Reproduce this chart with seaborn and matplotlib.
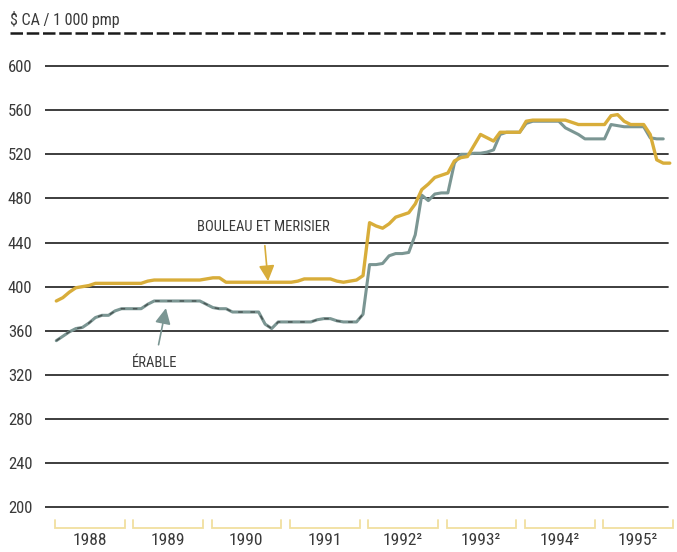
import numpy as np
import pandas as pd
import seaborn as sns
import matplotlib.pyplot as plt
from matplotlib import font_manager as fm
from matplotlib.transforms import blended_transform_factory

# Monthly lumber prices, January 1988 onward ($ CA / 1 000 pmp)
birch = [
    387, 390, 395, 399, 400, 401, 403, 403, 403, 403, 403, 403,
    403, 403, 405, 406, 406, 406, 406, 406, 406, 406, 406, 407,
    408, 408, 404, 404, 404, 404, 404, 404, 404, 404, 404, 404,
    404, 405, 407, 407, 407, 407, 407, 405, 404, 405, 406, 410,
    458, 455, 453, 457, 463, 465, 467, 475, 488, 493, 499, 501,
    503, 514, 517, 518, 528, 538, 535, 532, 540, 540, 540, 540,
    550, 551, 551, 551, 551, 551, 551, 549, 547, 547, 547, 547,
    547, 555, 556, 550, 547, 547, 547, 538, 515, 512, 512,
]
maple = [
    351, 355, 359, 362, 363, 367, 372, 374, 374, 378, 380, 380,
    380, 380, 384, 387, 387, 387, 387, 387, 387, 387, 387, 384,
    381, 380, 380, 377, 377, 377, 377, 377, 366, 362, 368, 368,
    368, 368, 368, 368, 370, 371, 371, 369, 368, 368, 368, 375,
    420, 420, 421, 428, 430, 430, 431, 447, 483, 478, 484, 485,
    485, 512, 520, 520, 521, 521, 522, 524, 538, 540, 540, 540,
    548, 550, 550, 550, 550, 550, 544, 541, 538, 534, 534, 534,
    534, 547, 546, 545, 545, 545, 545, 535, 534, 534,
]
years = ["1988", "1989", "1990", "1991", "1992²", "1993²", "1994²", "1995²"]
yticks = [200, 240, 280, 320, 360, 400, 440, 480, 520, 560, 600]

sns.set_theme(style="white")
installed = {f.name for f in fm.fontManager.ttflist}
narrow_choices = ["Liberation Sans Narrow", "Roboto Condensed", "Open Sans Condensed",
                  "DejaVu Sans Condensed", "Noto Sans Condensed"]
narrow = next((n for n in narrow_choices if n in installed), None)
plt.rcParams["font.family"] = [narrow, "DejaVu Sans"] if narrow else ["DejaVu Sans"]
shrink = 1.0 if narrow else 0.85

GOLD = "#d8ad3a"
TEAL = "#7b9693"
GRID = "#2e2e2e"
TEXT = "#3a3a3a"

fig = plt.figure(figsize=(6.77, 5.52), dpi=100)
ax = fig.add_axes([45 / 677, 1 - 511.4 / 552, (675 - 45) / 677, (511.4 - 33) / 552])
ax.set_xlim(-1.73, 94.8)
ax.set_ylim(196.2, 630.0)
for s in ax.spines.values():
    s.set_visible(False)

# horizontal reference lines
for v in yticks:
    ax.axhline(v, xmin=0, xmax=(668 - 45) / (675 - 45), color=GRID, lw=1.3, zorder=1)

df_b = pd.DataFrame({"month": np.arange(len(birch)), "price": birch})
df_m = pd.DataFrame({"month": np.arange(len(maple)), "price": maple})
sns.lineplot(data=df_b, x="month", y="price", color=GOLD, lw=2.4, ax=ax, zorder=3)
sns.lineplot(data=df_m, x="month", y="price", color=TEAL, lw=2.2, ax=ax, zorder=2)
# darker dashes along the earlier part of the maple series
ax.plot(df_m["month"][:48], df_m["price"][:48], color="#222222", lw=1.1,
        ls=(0, (3, 5)), alpha=0.55, zorder=2.5)

ax.set_xlabel("")
ax.set_ylabel("")
ax.set_xticks([])
ax.set_yticks(yticks)
ax.set_yticklabels([str(v) for v in yticks], fontsize=12 * shrink + (0 if narrow else 0.5),
                   color=TEXT)
ax.tick_params(axis="y", length=0, pad=9)

# year brackets and labels below the plot
for k, yr in enumerate(years):
    x0, x1 = 12 * k - 0.2, 12 * k + 10.5
    ax.plot([x0, x0, x1, x1], [188.5, 181.5, 181.5, 188.5], color="#f1df9f",
            lw=1.3, clip_on=False, solid_joinstyle="miter")
    ax.text(12 * k + 5.1, 169.5, yr, ha="center", va="center",
            fontsize=12.5 * shrink, color=TEXT, clip_on=False)

# dashed rule at the top and unit label
trans = blended_transform_factory(fig.transFigure, ax.transData)
ax.plot([10 / 677, 665 / 677], [630, 630], transform=trans, color="#1a1a1a",
        lw=1.8, ls=(0, (5, 1.5)), clip_on=False)
fig.text(10 / 677, 1 - 20 / 552, "$ CA / 1 000 pmp", ha="left", va="center",
         fontsize=11.5 * shrink, color=TEXT)

# series annotations
ax.annotate("BOULEAU ET MERISIER", xy=(32.45, 405), xytext=(31.7, 454),
            ha="center", va="center", fontsize=10.5 * shrink, color=TEXT,
            arrowprops=dict(arrowstyle="-|>,head_length=0.9,head_width=0.45",
                            color=GOLD, lw=1.2, shrinkA=6, shrinkB=0))
ax.annotate("ÉRABLE", xy=(16.8, 380.5), xytext=(15.1, 330.6),
            ha="center", va="center", fontsize=10.5 * shrink, color=TEXT,
            arrowprops=dict(arrowstyle="-|>,head_length=0.9,head_width=0.45",
                            color=TEAL, lw=1.2, shrinkA=6, shrinkB=0))

fig.savefig("out.png", dpi=100)
